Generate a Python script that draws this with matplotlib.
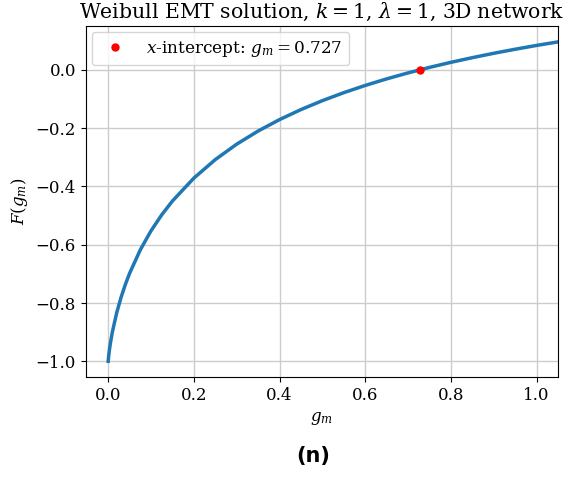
import numpy as np
import matplotlib
matplotlib.use('Agg')
import matplotlib.pyplot as plt

# F(g_m), Weibull k=1, lambda=1, 3D network
g_m = [0.0, 0.001, 0.0025, 0.005, 0.01, 0.02, 0.03, 0.04, 0.05, 0.075,
       0.1, 0.125, 0.15, 0.2, 0.25, 0.3, 0.35, 0.4, 0.45, 0.5,
       0.55, 0.6, 0.65, 0.7, 0.75, 0.8, 0.85, 0.9, 0.95, 1.0, 1.05]
F_g = [-1.0, -0.983, -0.9644, -0.9388, -0.8973, -0.8326, -0.7806, -0.7365, -0.6978, -0.6173,
       -0.5520, -0.4972, -0.4498, -0.3713, -0.3078, -0.2548, -0.2097, -0.1705, -0.1361, -0.1055,
       -0.0781, -0.0533, -0.0308, -0.0103, 0.0086, 0.0260, 0.0420, 0.0570, 0.0709, 0.0840, 0.0961]
root = 0.727

plt.rcParams['font.family'] = 'DejaVu Serif'
plt.rcParams['mathtext.fontset'] = 'dejavuserif'

fig = plt.figure(figsize=(5.76, 4.8), dpi=100)
ax = fig.add_axes([0.1488, 0.214, 0.82, 0.732])
ax.plot(g_m, F_g, color='#1f77b4', lw=2.5)
ax.plot([root], [0.0], 'o', color='red', ms=5, label=r'$x$-intercept: $g_m = 0.727$')
ax.set_xlim(-0.0525, 1.05)
ax.grid(True, color='#cccccc', lw=1)
ax.tick_params(labelsize=12)
ax.set_xlabel(r'$g_m$', fontsize=12)
ax.set_ylabel(r'$F(g_m)$', fontsize=12)
ax.set_title(r'Weibull EMT solution, $k = 1$, $\lambda = 1$, 3D network', fontsize=14.7)
ax.legend(loc='upper left', fontsize=12.2, borderaxespad=0.35)
fig.text(0.543, 0.05, '(n)', ha='center', va='center', fontsize=15,
         fontweight='bold', family='DejaVu Sans')
fig.savefig('out.png', dpi=100)
